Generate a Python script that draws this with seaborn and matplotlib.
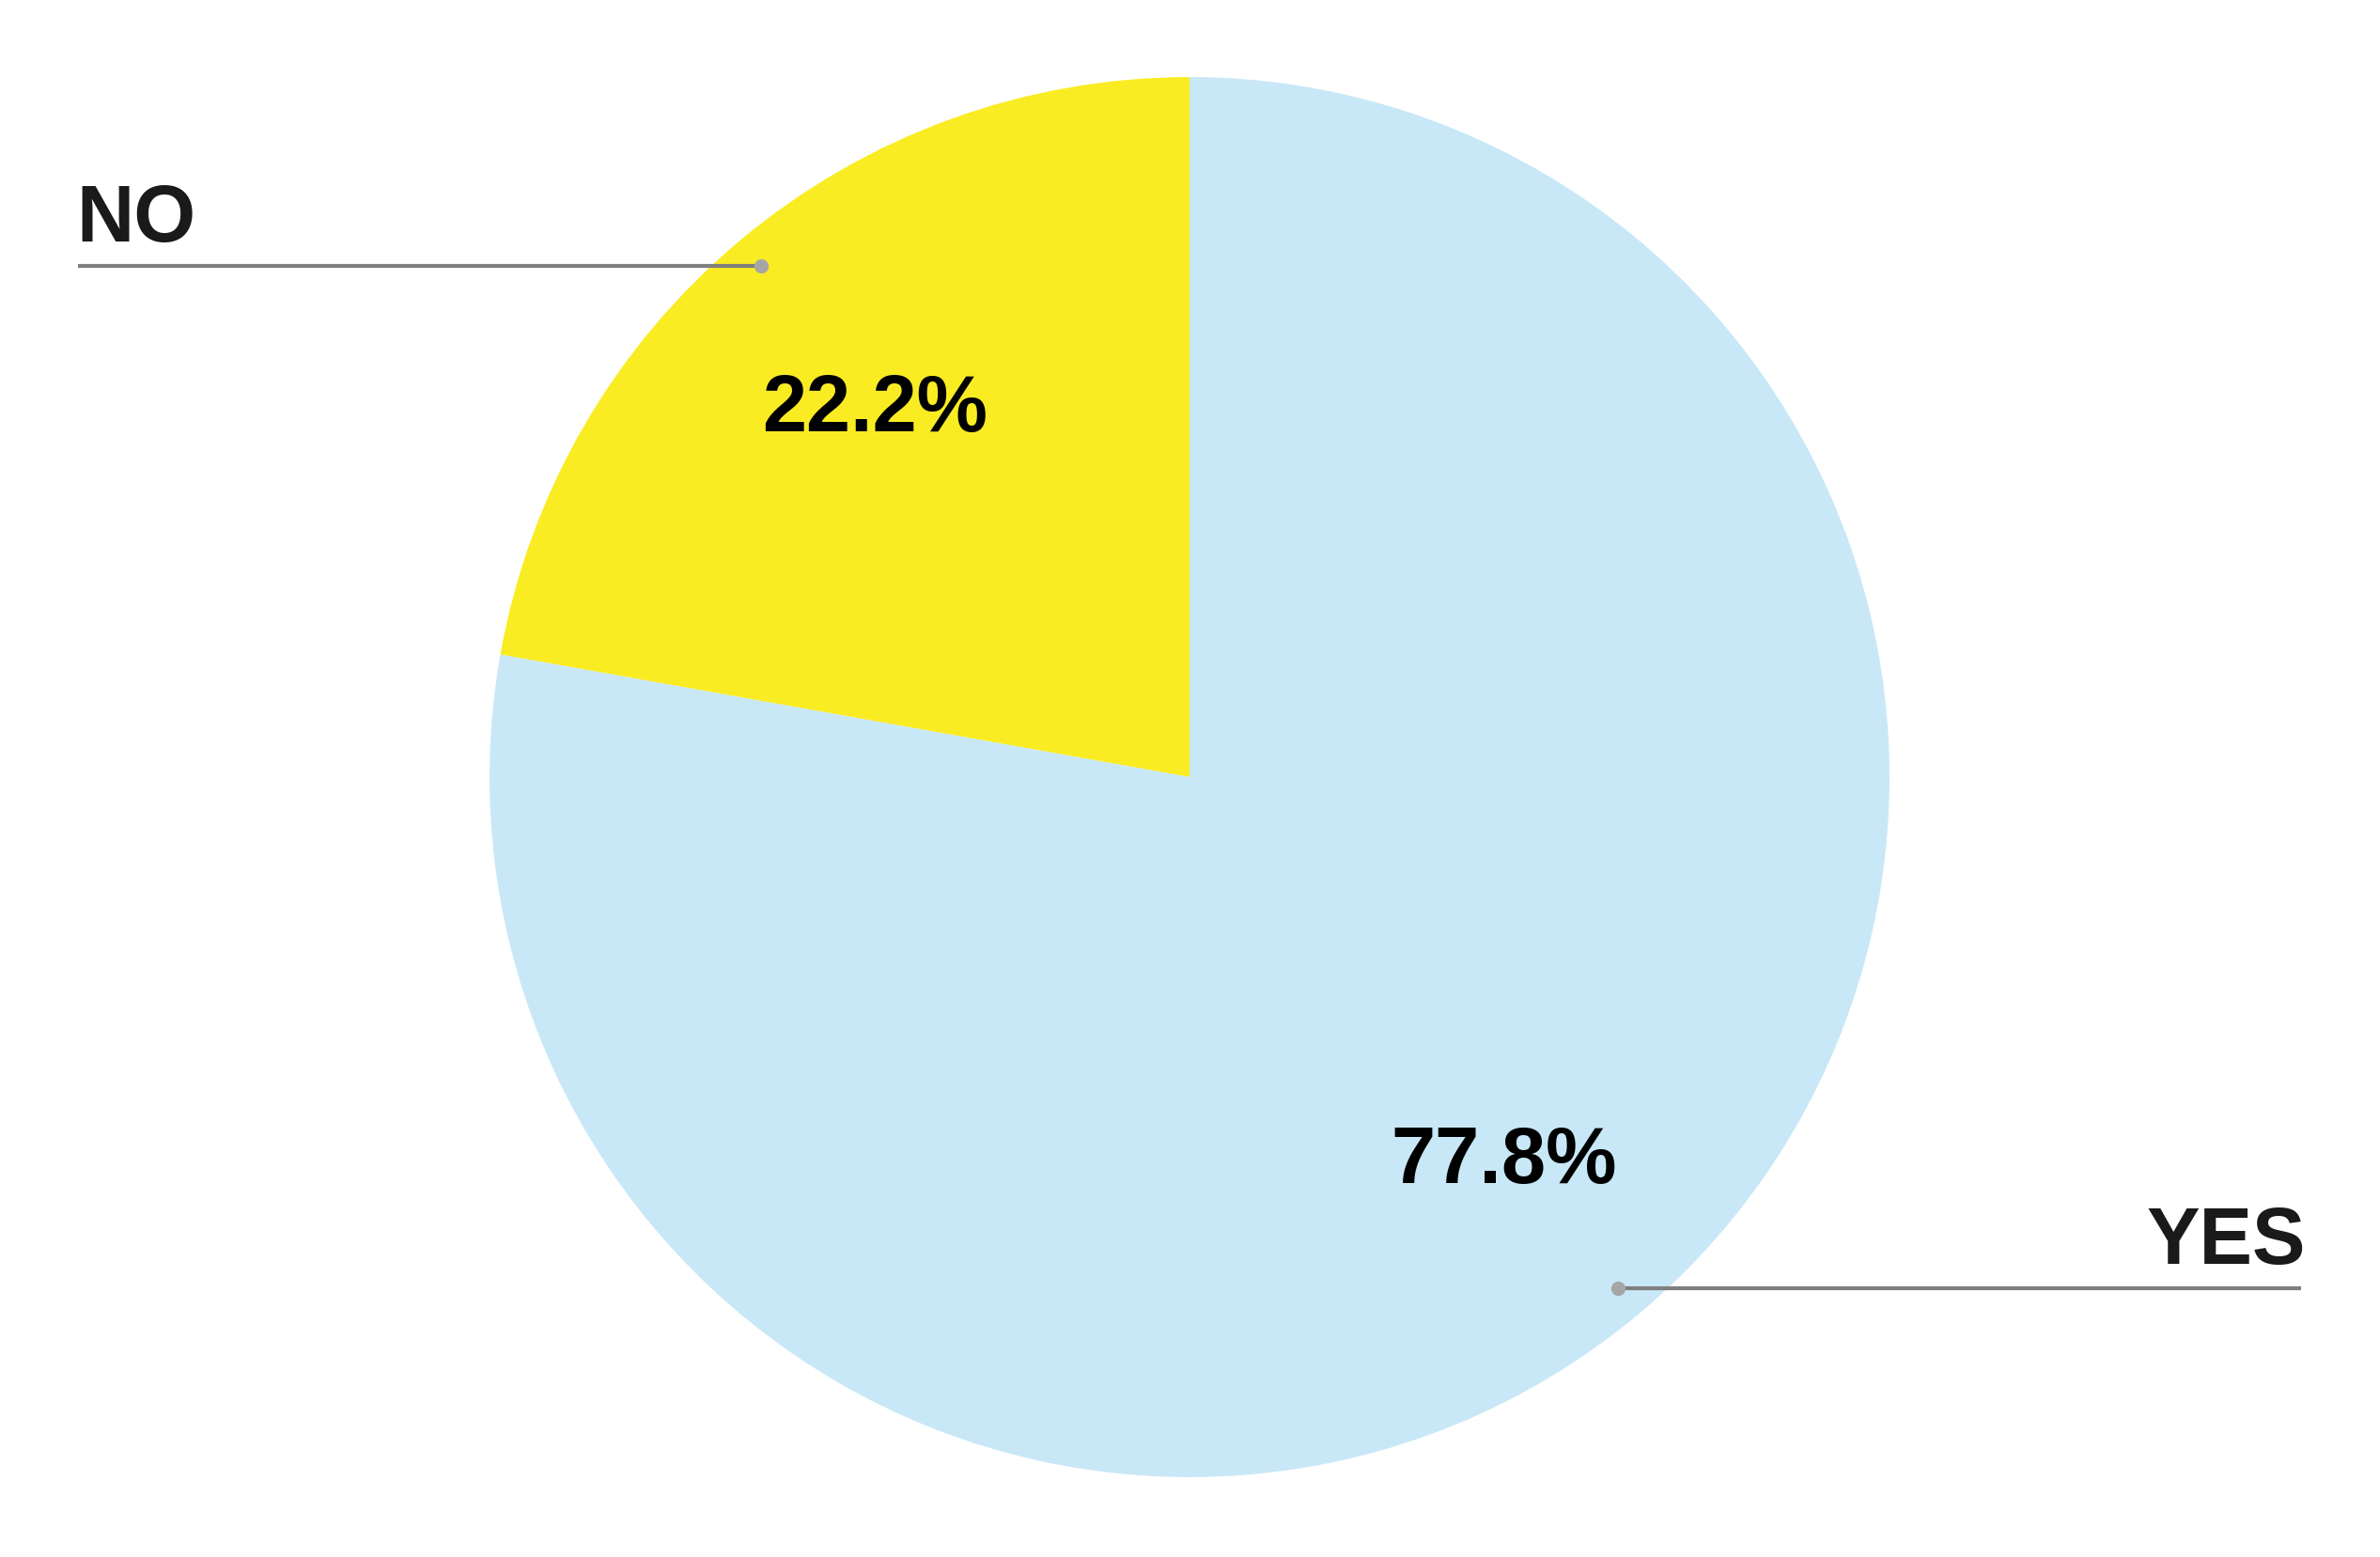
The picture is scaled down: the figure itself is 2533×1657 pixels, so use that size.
import matplotlib
matplotlib.use("Agg")
import matplotlib.pyplot as plt
import seaborn as sns
import numpy as np

# Survey answers
labels = ["NO", "YES"]
shares = [22.2, 77.8]
colors = ["#FAEC23", "#C9E8F7"]

sns.set_theme(style="white")
plt.rcParams["font.family"] = "Liberation Sans"
FONT = "Liberation Sans"

W, H = 2533, 1658
fig = plt.figure(figsize=(W / 100, H / 100), dpi=100, facecolor="white")
ax = fig.add_axes([0, 0, 1, 1])

cx, cy, r = 1266, H - 828, 745
wedges, texts, autotexts = ax.pie(
    shares, colors=colors, startangle=90, counterclock=True,
    center=(cx, cy), radius=r, autopct="%.1f%%", pctdistance=0.70,
    wedgeprops=dict(linewidth=0),
    textprops=dict(fontsize=61, fontweight="bold", color="black", family=FONT),
)
for t in autotexts:
    t.set_va("center_baseline")
ax.set_xlim(0, W)
ax.set_ylim(0, H)
ax.set_aspect("equal")
ax.axis("off")

# Callout lines with labels
line_ends = {"NO": 83, "YES": 2449}
for w, lab in zip(wedges, labels):
    mid = np.deg2rad((w.theta1 + w.theta2) / 2)
    dx = cx + 0.952 * r * np.cos(mid)
    dy = cy + 0.952 * r * np.sin(mid)
    xe = line_ends[lab]
    ax.plot([xe, dx], [dy, dy], color="#7f7f7f", lw=3, solid_capstyle="butt", zorder=3)
    ax.plot(dx, dy, "o", color="#a6a6a6", markersize=11, markeredgewidth=0, zorder=4)
    ha = "left" if xe < dx else "right"
    ax.text(xe + (-2 if ha == "left" else 5), dy + 27, lab, ha=ha, va="baseline",
            fontsize=61, fontweight="bold", color="#1a1a1a", family=FONT)

fig.savefig("out.png", dpi=100, facecolor="white")
